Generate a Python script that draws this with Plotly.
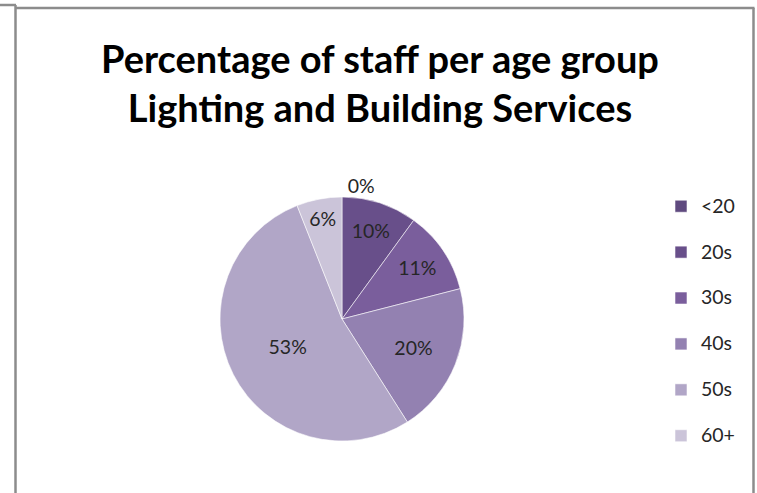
import plotly.graph_objects as go

# ---- data ----
age_groups = ["<20", "20s", "30s", "40s", "50s", "60+"]
staff_pct = [0, 10, 11, 20, 53, 6]
slice_colors = ["#5f4a7f", "#684f8a", "#7a5e9c", "#9381b1", "#b1a6c7", "#cbc4d9"]
title_lines = ["Percentage of staff per age group", "Lighting and Building Services"]

W, H = 757, 493
FONT = "Lato"

def px(x):
    return x / W

def py(y):
    return 1 - y / H

text_pos = ["outside" if v == 0 else "inside" for v in staff_pct]
legend_labels = ['<span style="font-size:19.5px">' + g.replace("<", "&lt;") + "</span><br> " for g in age_groups]

fig = go.Figure(
    go.Pie(
        labels=legend_labels,
        values=staff_pct,
        sort=False,
        direction="clockwise",
        rotation=0,
        marker=dict(colors=slice_colors, line=dict(color="rgba(255,255,255,0.7)", width=0.8)),
        texttemplate="%{value}%",
        textposition=text_pos,
        insidetextorientation="horizontal",
        textfont=dict(family=FONT, size=19.5, color="#262626"),
        domain=dict(x=[px(220), px(464)], y=[py(446), py(192)]),
        showlegend=True,
        hoverinfo="percent",
    )
)

border = dict(color="#8c8c8c", width=2.5)
shapes = [
    dict(type="line", xref="paper", yref="paper", x0=px(0), x1=px(16), y0=py(5), y1=py(5), line=border),
    dict(type="line", xref="paper", yref="paper", x0=px(15.5), x1=px(15.5), y0=py(5), y1=py(493), line=border),
    dict(type="line", xref="paper", yref="paper", x0=px(16), x1=px(754.5), y0=py(8), y1=py(8), line=border),
    dict(type="line", xref="paper", yref="paper", x0=px(753.5), x1=px(753.5), y0=py(8), y1=py(493), line=border),
]

fig.update_layout(
    width=W,
    height=H,
    margin=dict(l=0, r=0, t=0, b=0),
    paper_bgcolor="white",
    plot_bgcolor="white",
    font=dict(family=FONT, color="#262626"),
    title=dict(
        text="<br>".join(title_lines),
        x=px(380),
        xanchor="center",
        y=py(73),
        yanchor="middle",
        yref="container",
        font=dict(family=FONT, size=38, color="black", weight="bold"),
    ),
    legend=dict(
        x=px(661),
        y=py(189),
        xanchor="left",
        yanchor="top",
        valign="top",
        font=dict(family=FONT, size=16.5, color="#262626"),
        bgcolor="rgba(0,0,0,0)",
        tracegroupgap=0,
    ),
    uniformtext=dict(minsize=19.5, mode="show"),
    shapes=shapes,
)

fig.write_html("out.html")
